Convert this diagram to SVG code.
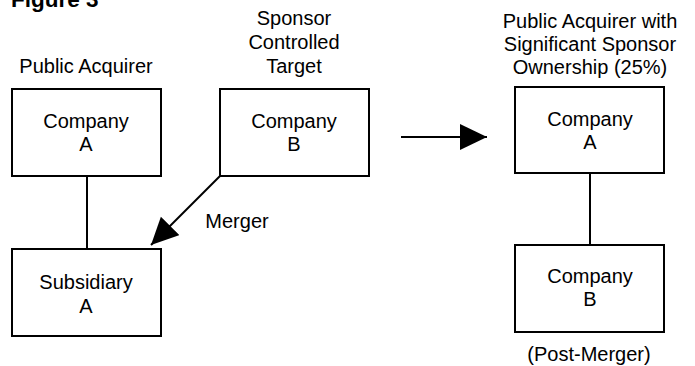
<svg xmlns="http://www.w3.org/2000/svg" width="695" height="366" viewBox="0 0 695 366">
<style>
text{font-family:"Liberation Sans",Arial,sans-serif;font-size:20px;fill:#000;text-anchor:middle}
.title{font-weight:bold;font-size:22.5px;text-anchor:start}
.box{fill:#fff;stroke:#000;stroke-width:2}
.conn{stroke:#000;stroke-width:2;fill:none}
</style>
<defs>
<marker id="ah" markerUnits="userSpaceOnUse" markerWidth="28" markerHeight="27" refX="27" refY="13" orient="auto">
<path d="M0,0 L27,13 L0,26 Z" fill="#000"/>
</marker>
</defs>
<rect width="695" height="366" fill="#fff"/>
<text class="title" x="11" y="7">Figure 3</text>
<text x="86" y="73">Public Acquirer</text>
<text x="294" y="25">Sponsor</text>
<text x="294" y="49">Controlled</text>
<text x="294" y="73">Target</text>
<text x="590" y="28">Public Acquirer with</text>
<text x="590" y="51">Significant Sponsor</text>
<text x="590" y="74">Ownership (25%)</text>
<g id="connectors">
<line class="conn" x1="87" y1="176" x2="87" y2="249"/>
<line class="conn" x1="220" y1="176" x2="151" y2="245" marker-end="url(#ah)"/>
<line class="conn" x1="401" y1="137" x2="487" y2="137" marker-end="url(#ah)"/>
<line class="conn" x1="590" y1="173" x2="590" y2="245"/>
<text x="237" y="228">Merger</text>
</g>
<g id="companyA">
<rect class="box" x="12" y="89" width="149" height="87"/>
<text x="86" y="128">Company</text>
<text x="86" y="151">A</text>
</g>
<g id="companyB">
<rect class="box" x="220" y="89" width="149" height="87"/>
<text x="294" y="128">Company</text>
<text x="294" y="151">B</text>
</g>
<g id="subsidiaryA">
<rect class="box" x="12" y="249" width="149" height="87"/>
<text x="86" y="289">Subsidiary</text>
<text x="86" y="313">A</text>
</g>
<g id="postCompanyA">
<rect class="box" x="515" y="87" width="149" height="86"/>
<text x="590" y="126">Company</text>
<text x="590" y="149">A</text>
</g>
<g id="postCompanyB">
<rect class="box" x="515" y="245" width="149" height="87"/>
<text x="590" y="283">Company</text>
<text x="590" y="306">B</text>
</g>
<text x="589" y="361">(Post-Merger)</text>
</svg>
